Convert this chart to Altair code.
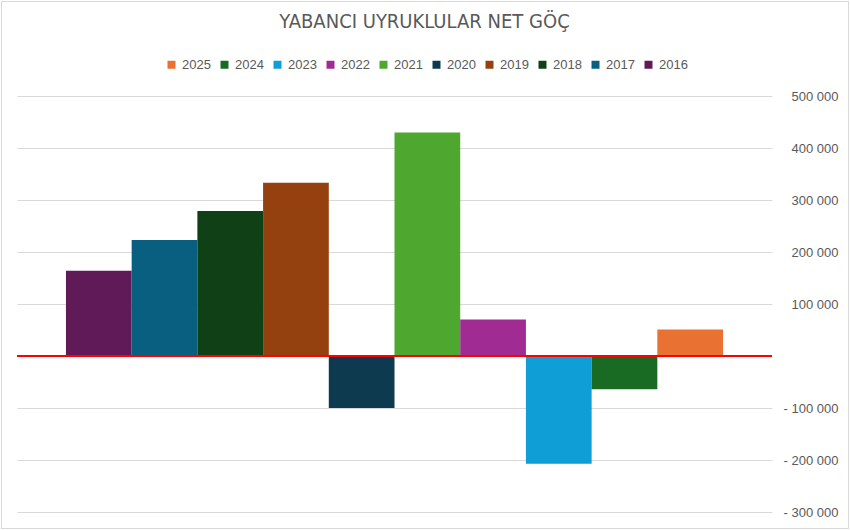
import altair as alt
import pandas as pd

years = ["2016", "2017", "2018", "2019", "2020", "2021", "2022", "2023", "2024", "2025"]
values = [164000, 223000, 279000, 333000, -100000, 430000, 70000, -207000, -64000, 51000]
colors = ["#601A58", "#095F80", "#0F4016", "#95400F", "#0D3A4E",
          "#4EA72E", "#A02B93", "#0F9ED5", "#196B24", "#E97132"]
y_ticks = [-300000, -200000, -100000, 0, 100000, 200000, 300000, 400000, 500000]
title_text = "YABANCI UYRUKLULAR NET GÖÇ"

df = pd.DataFrame({"year": years, "value": values})

W, H = 755, 416
PL, PT, PR, PB = 17, 96, 78, 18

label_expr = ("datum.value == 0 ? '' : (datum.value < 0 ? '- ' : '') + "
              "replace(format(abs(datum.value), ','), ',', ' ')")

bars = alt.Chart(df).mark_bar().encode(
    x=alt.X("year:N", axis=None,
            scale=alt.Scale(domain=years, paddingInner=0, paddingOuter=0.745)),
    y=alt.Y("value:Q",
            scale=alt.Scale(domain=[-300000, 500000], nice=False),
            axis=alt.Axis(orient="right", values=y_ticks, labelExpr=label_expr,
                          title=None, domain=False, ticks=False, tickSize=0,
                          labelAlign="right", labelPadding=66,
                          labelFontSize=13, labelColor="#595959",
                          labelFont="Liberation Sans",
                          grid=True, gridColor="#D9D9D9", gridWidth=1.2)),
    color=alt.Color("year:N",
                    scale=alt.Scale(domain=years, range=colors),
                    sort=list(reversed(years)),
                    legend=alt.Legend(title=None, orient="none", direction="horizontal",
                                      legendX=148, legendY=-38,
                                      values=list(reversed(years)),
                                      symbolType="square", symbolSize=64,
                                      symbolStrokeWidth=0,
                                      labelFontSize=13, labelColor="#595959",
                                      labelFont="Liberation Sans",
                                      labelOffset=4, columnPadding=7)),
)

zero = alt.Chart(df).mark_rule(color="#FF0000", strokeWidth=1.5).encode(
    y=alt.datum(0)
)

frame = alt.Chart(df).mark_rect(fill=None, stroke="#D9D9D9", strokeWidth=1, clip=False).encode(
    x=alt.value(-PL + 1.5), x2=alt.value(W + PR - 1.5),
    y=alt.value(-PT + 1.5), y2=alt.value(H + PB - 1.5)
)

chart = alt.layer(bars, zero, frame).properties(
    width=W, height=H,
    padding={"left": PL, "top": PT, "right": PR, "bottom": PB},
    autosize=alt.AutoSizeParams(type="none"),
    title=alt.TitleParams(title_text, anchor="middle", frame="group",
                          fontSize=20, fontWeight="normal", color="#595959",
                          font="Liberation Sans Narrow, DejaVu Sans Condensed, Liberation Sans",
                          dx=30, offset=0, dy=31),
    background="white",
).configure_view(stroke=None)

chart.save("out.html", embed_options={"renderer": "svg", "actions": False})
